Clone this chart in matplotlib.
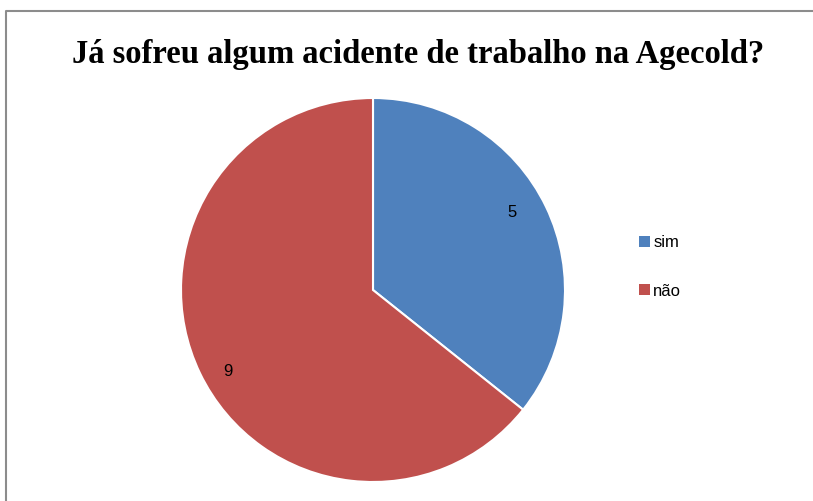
import matplotlib
matplotlib.use("Agg")
import numpy as np
import matplotlib.pyplot as plt
from matplotlib.lines import Line2D
from matplotlib.patches import Patch

labels = ["sim", "não"]
values = [5, 9]
colors = ["#4f81bd", "#c0504d"]
title = "Já sofreu algum acidente de trabalho na Agecold?"

W, H = 813, 501
fig = plt.figure(figsize=(W / 100, H / 100), dpi=100)

# chart frame (only left and top edges visible)
fig.add_artist(Line2D([6 / W, 6 / W, 1], [0, 1 - 11 / H, 1 - 11 / H],
                      transform=fig.transFigure, color="#8c8c8c", lw=1.5))

fig.text(418 / W, 1 - 55 / H, title, ha="center", va="center",
         fontsize=23.5, fontweight="bold", family="Liberation Serif")

cx, cy, r = 373, 290, 192
ax = fig.add_axes([(cx - r) / W, 1 - (cy + r) / H, 2 * r / W, 2 * r / H])
ax.pie(values, colors=colors, startangle=90, counterclock=False,
       radius=1, wedgeprops=dict(edgecolor="white", linewidth=1.5))
ax.set_xlim(-1, 1)
ax.set_ylim(-1, 1)
ax.set_aspect("equal")
ax.axis("off")

# data labels inside the slices
total = sum(values)
start = 90
for v, dist in zip(values, [0.83, 0.865]):
    ang = np.deg2rad(start - 360 * v / total / 2 + 3.5)
    ax.text(dist * np.cos(ang), dist * np.sin(ang), str(v), ha="center", va="center",
            fontsize=12, family="Liberation Sans")
    start -= 360 * v / total

handles = [Patch(facecolor=c, edgecolor="none") for c in colors]
fig.legend(handles, labels, loc="center left", bbox_to_anchor=(624 / W, 1 - 267 / H),
           frameon=False, prop=dict(family="Liberation Sans", size=12),
           handlelength=0.65, handleheight=0.65, handletextpad=0.2, labelspacing=2.0)

fig.savefig("out.png", dpi=100)
